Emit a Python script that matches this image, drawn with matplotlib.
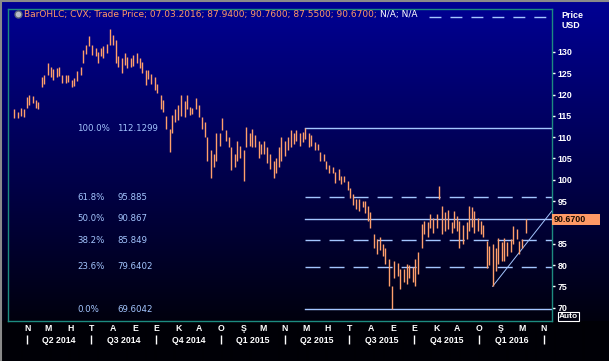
import matplotlib
matplotlib.use("Agg")
import matplotlib.pyplot as plt
import matplotlib.dates as mdates
from matplotlib import font_manager
from matplotlib.lines import Line2D
from matplotlib.patches import Rectangle
from matplotlib.transforms import blended_transform_factory
import numpy as np
import pandas as pd

# CVX trade price, high/low every 3 trading days
last_date = "2016-03-07"
highs = [116.5, 116.0, 116.8, 116.5, 119.4, 119.9, 119.6, 118.8, 118.2, 124.2,
         124.6, 127.4, 126.5, 126.0, 126.3, 126.4, 124.5, 124.6, 124.5, 123.4,
         123.8, 125.5, 126.5, 130.5, 131.7, 133.8, 131.7, 131.0, 130.0, 131.0,
         131.5, 131.9, 135.4, 134.0, 132.8, 129.0, 128.5, 129.7, 128.8, 128.5,
         129.2, 129.8, 128.5, 127.6, 125.8, 125.8, 124.8, 124.0, 122.5, 119.9,
         118.7, 115.0, 112.0, 115.1, 116.5, 117.5, 119.9, 118.5, 119.9, 117.0,
         116.8, 119.2, 117.5, 114.7, 113.5, 110.0, 106.9, 106.0, 110.9, 111.0,
         114.4, 111.6, 110.0, 107.6, 106.0, 109.2, 108.0, 106.9, 112.3, 111.0,
         112.0, 110.5, 109.2, 108.5, 109.0, 107.6, 106.0, 104.5, 105.0, 107.6,
         110.0, 109.0, 110.0, 111.6, 111.0, 111.6, 111.0, 111.2, 112.13, 110.9,
         110.5, 108.8, 108.5, 106.4, 106.0, 104.5, 103.5, 103.0, 101.8, 102.6,
         101.0, 100.8, 99.8, 98.0, 96.7, 95.5, 95.6, 95.0, 95.1, 93.9,
         92.5, 87.3, 86.0, 86.5, 85.0, 84.0, 81.4, 75.0, 80.9, 80.5,
         79.0, 79.0, 80.2, 80.0, 79.5, 81.4, 83.0, 89.7, 90.4, 90.0,
         92.0, 91.0, 92.0, 98.6, 93.9, 92.5, 93.0, 90.0, 92.7, 91.5,
         90.4, 89.5, 90.0, 93.9, 93.5, 92.7, 91.0, 90.4, 89.5, 85.7,
         84.5, 85.0, 84.0, 86.4, 85.5, 86.4, 85.5, 86.0, 89.2, 88.5,
         85.7, 86.0, 90.76]
lows = [114.5, 114.6, 115.0, 114.7, 116.8, 117.5, 118.0, 116.8, 116.5, 121.8,
        122.5, 124.5, 124.0, 123.3, 124.0, 124.3, 122.8, 122.7, 123.0, 121.7,
        122.0, 123.2, 124.5, 127.4, 129.5, 131.5, 129.3, 129.0, 127.4, 129.0,
        128.5, 129.7, 131.7, 131.7, 127.4, 126.5, 125.0, 127.0, 126.2, 126.5,
        126.8, 127.5, 126.2, 125.0, 122.2, 123.6, 122.5, 121.0, 120.3, 116.5,
        115.9, 112.0, 106.4, 110.9, 113.5, 114.0, 115.0, 114.7, 116.5, 115.1,
        115.5, 116.5, 114.7, 112.0, 110.0, 104.5, 100.3, 103.0, 104.5, 108.0,
        111.6, 109.0, 107.6, 102.2, 103.0, 104.5, 105.0, 99.8, 107.6, 108.0,
        107.6, 107.8, 105.2, 106.0, 106.0, 104.0, 102.5, 100.5, 101.5, 103.0,
        104.5, 105.5, 107.0, 107.6, 108.5, 109.0, 108.0, 108.8, 109.5, 107.6,
        108.0, 106.9, 107.0, 104.5, 104.5, 102.5, 101.5, 101.5, 99.3, 100.0,
        99.1, 99.5, 97.5, 95.8, 94.0, 93.2, 92.7, 93.5, 92.3, 90.4,
        88.7, 84.0, 82.6, 83.5, 82.0, 80.2, 75.0, 69.6, 76.9, 77.5,
        74.3, 76.0, 75.5, 77.0, 76.0, 75.0, 78.0, 84.0, 87.3, 86.5,
        88.7, 87.5, 88.7, 95.6, 87.3, 88.0, 88.5, 87.5, 88.7, 88.0,
        84.0, 85.0, 86.0, 88.0, 89.0, 87.5, 88.0, 87.3, 86.5, 79.3,
        80.0, 75.0, 78.5, 80.2, 81.0, 80.9, 82.0, 83.0, 85.0, 86.0,
        82.6, 84.0, 87.55]
last_close = 90.67

# Fibonacci retracement from the May 2015 high to the Aug 2015 low
fib_pcts = ["100.0%", "61.8%", "50.0%", "38.2%", "23.6%", "0.0%"]
fib_vals = [112.1299, 95.885, 90.867, 85.849, 79.6402, 69.6042]
fib_dashed = [False, True, False, True, True, False]
fib_start = "2015-04-29"

# trend line drawn from the January 2016 low
trend_dates = ["2016-01-20", "2016-04-13"]
trend_vals = [75.0, 92.7]

month_letters = {1: "O", 2: "Ş", 3: "M", 4: "N", 5: "M", 6: "H",
                 7: "T", 8: "A", 9: "E", 10: "E", 11: "K", 12: "A"}
quarter_labels = ["Q2 2014", "Q3 2014", "Q4 2014", "Q1 2015",
                  "Q2 2015", "Q3 2015", "Q4 2015", "Q1 2016"]

title_main = "BarOHLC; CVX; Trade Price; 07.03.2016; 87.9400; 90.7600; 87.5500; 90.6700; "
title_tail = "N/A; N/A"

# colours
bar_col = "#ff9f6b"
fib_col = "#a4c6ff"
frame_col = "#1d8b80"

names = {f.name for f in font_manager.fontManager.ttflist}
narrow = "Liberation Sans Narrow" if "Liberation Sans Narrow" in names else "Liberation Sans"
plt.rcParams["lines.scale_dashes"] = False

W, H = 609, 361
fig = plt.figure(figsize=(W / 100, H / 100), dpi=100)
fig.patch.set_facecolor("#000006")

# background gradient, blue at top fading to almost black
bg = fig.add_axes([0, 0, 1, 1], zorder=-10)
bg.axis("off")
frac = np.linspace(0, 1, 321)
grad = np.zeros((H, 1, 3))
grad[:321, 0, 2] = (148 - 134 * frac) / 255
grad[321:, 0, 2] = 6 / 255
bg.imshow(grad, aspect="auto", extent=[0, 1, 0, 1], interpolation="bilinear")
bg.set_xlim(0, 1)
bg.set_ylim(0, 1)

ax = fig.add_axes([8 / W, (H - 321) / H, 544 / W, 312 / H])
ax.set_facecolor("none")
for s in ax.spines.values():
    s.set_color(frame_col)
    s.set_linewidth(1.0)

dates = pd.date_range(end=last_date, periods=len(highs), freq="3B")
ax.vlines(dates, lows, highs, color=bar_col, linewidth=1.0, zorder=3)

x0 = mdates.date2num(pd.Timestamp("2014-03-05"))
x1 = mdates.date2num(pd.Timestamp("2016-04-13"))
ax.set_xlim(x0, x1)
ax.set_ylim(66.86, 140.07)

# fibonacci levels
fs = mdates.date2num(pd.Timestamp(fib_start))
tr = blended_transform_factory(ax.transAxes, ax.transData)
for pct, v, dashed in zip(fib_pcts, fib_vals, fib_dashed):
    ls = (0, (10.8, 6.5)) if dashed else "-"
    ax.plot([fs, x1], [v, v], color=fib_col, lw=1.0, linestyle=ls, zorder=2)
    ax.text(0.1268, v, pct, transform=tr, color=fib_col, fontsize=6.2,
            va="center", ha="left")
    ax.text(0.2004, v, str(v), transform=tr, color=fib_col, fontsize=6.2,
            va="center", ha="left")

ax.plot(mdates.date2num(pd.to_datetime(trend_dates)), trend_vals,
        color=fib_col, lw=0.7, zorder=2)

# x axis: month letters and quarter row
months = pd.date_range("2014-04-01", "2016-04-01", freq="MS")
ax.set_xticks(mdates.date2num(months))
ax.set_xticklabels([month_letters[m.month] for m in months])
ax.tick_params(axis="x", length=0, pad=2.5, colors="white", labelsize=6.3)
for lab in ax.get_xticklabels():
    lab.set_fontfamily(["Liberation Sans", "DejaVu Sans"])
    lab.set_fontweight("bold")

qstarts = mdates.date2num(pd.date_range("2014-04-01", "2016-04-01", freq="QS"))
trx = blended_transform_factory(ax.transData, ax.transAxes)
ax.vlines(qstarts, -0.045, -0.074, transform=trx, color="white", lw=1.0,
          clip_on=False)
for i, q in enumerate(quarter_labels):
    ax.text((qstarts[i] + qstarts[i + 1]) / 2, -0.061, q, transform=trx,
            color="white", fontsize=6.3, fontweight="bold",
            family=["Liberation Sans", "DejaVu Sans"],
            ha="center", va="center")

# y axis on the right, the 90 label sits under the last price box
yt = np.arange(70, 131, 5)
ax.yaxis.tick_right()
ax.set_yticks(yt)
ax.set_yticklabels(["" if t == 90 else str(t) for t in yt])
ax.tick_params(axis="y", length=2, width=1, pad=2, colors="white",
               labelsize=6.4)
for lab in ax.get_yticklabels():
    lab.set_fontfamily([narrow, "DejaVu Sans"])
    lab.set_fontweight("bold")

# last price box
ax.add_patch(Rectangle((1.0, last_close - 1.3), 0.089, 2.6, transform=tr,
                       facecolor="#ff9966", edgecolor="none", clip_on=False,
                       zorder=5))
ax.text(1.003, last_close, f"{last_close:.4f}", transform=tr, color="#1a0a00",
        fontsize=6.4, family=[narrow, "DejaVu Sans"], fontweight="bold",
        va="center", ha="left", zorder=6, clip_on=False)

# "Auto" button under the price axis
fig.text(559 / W, 1 - 316.5 / H, "Auto", color="white", fontsize=6.0,
         family=[narrow, "DejaVu Sans"], fontweight="bold", va="center",
         ha="left",
         bbox=dict(boxstyle="square,pad=0.1", facecolor="#000010",
                   edgecolor="white", linewidth=0.8))

fig.text(561 / W, 1 - 15 / H, "Price", color="white", fontsize=6.4,
         family=[narrow, "DejaVu Sans"], fontweight="bold", va="center")
fig.text(561 / W, 1 - 25.5 / H, "USD", color="white", fontsize=6.4,
         family=[narrow, "DejaVu Sans"], fontweight="bold", va="center")

# header line
fig.add_artist(Line2D([18 / W], [1 - 14 / H], marker="o", markersize=5,
                      color="#b8bcc8", markeredgecolor="#606878",
                      transform=fig.transFigure))
t1 = fig.text(24 / W, 1 - 15 / H, title_main, color="#ff9966", fontsize=6.5,
              va="center", ha="left")
fig.canvas.draw()
bb = t1.get_window_extent()
fig.text(bb.x1 / W, 1 - 15 / H, title_tail, color="white", fontsize=6.5,
         va="center", ha="left")
fig.add_artist(Line2D([429 / W, 552 / W], [1 - 16.5 / H] * 2, color=fib_col,
                      lw=1.0, linestyle=(0, (8.6, 6.5)),
                      transform=fig.transFigure))

# grey window border top and left
fig.add_artist(Line2D([0, 1], [1 - 1 / H] * 2, color="#8a8a8a", lw=1.5,
                      transform=fig.transFigure))
fig.add_artist(Line2D([1 / W] * 2, [0, 1], color="#8a8a8a", lw=1.5,
                      transform=fig.transFigure))

fig.savefig("out.png", dpi=100, facecolor=fig.get_facecolor())
